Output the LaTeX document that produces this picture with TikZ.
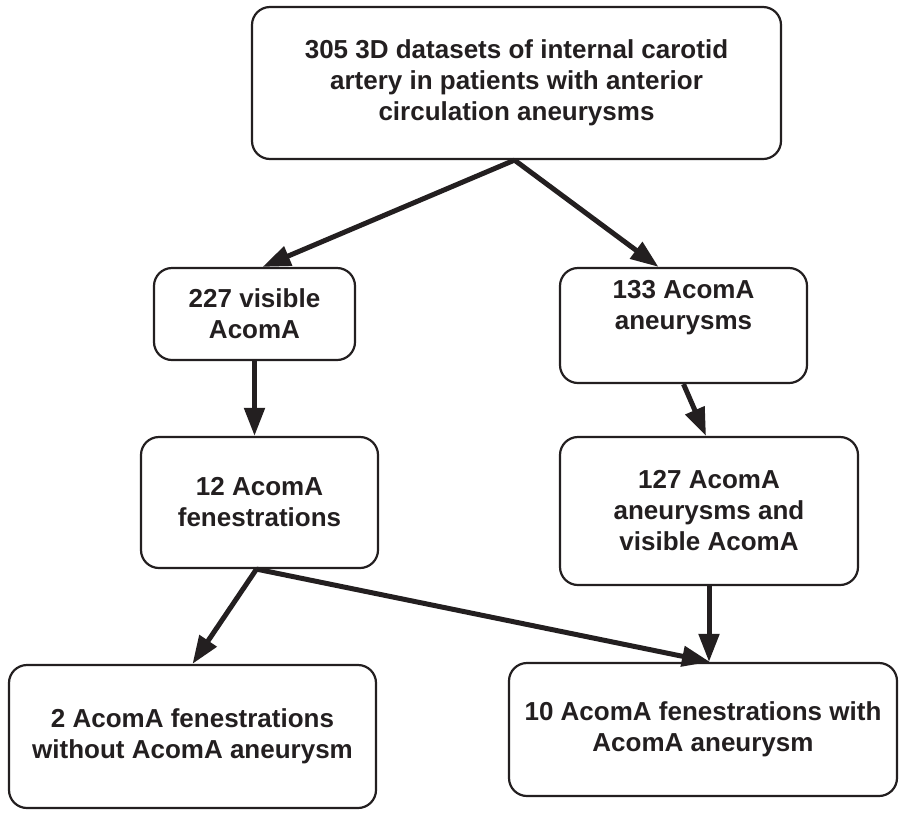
\documentclass[tikz,border=0pt]{standalone}
\usepackage{fontspec}
\setmainfont{Liberation Sans}
\usetikzlibrary{arrows.meta,calc}
\definecolor{ink}{HTML}{231F20}
\tikzset{
  box/.style={draw=ink, text=ink, line width=2.2pt, rounded corners=18pt, align=center,
    inner sep=0pt, font=\fontsize{26}{31}\selectfont\bfseries},
  arr/.style={draw=ink, line width=5pt, -{Triangle[width=20pt,length=28pt]}}
}
\begin{document}
\begin{tikzpicture}[x=1pt,y=-1pt]
\useasboundingbox (0,0) rectangle (901,812);
\node[box, minimum width=529pt, minimum height=152pt] (top) at (516.5,83)
  {305 3D datasets of internal carotid\\artery in patients with anterior\\circulation aneurysms};
\node[box, minimum width=201pt, minimum height=92pt] (v227) at (254.5,314)
  {227 visible\\AcomA};
\node[box, minimum width=247pt, minimum height=115pt] (a133) at (683.5,325.5)
  {133 AcomA\\aneurysms\\\strut};
\node[box, minimum width=237pt, minimum height=131pt] (f12) at (259.5,502.5)
  {12 AcomA\\fenestrations};
\node[box, minimum width=298pt, minimum height=148pt] (a127) at (709,511)
  {127 AcomA\\aneurysms and\\visible AcomA};
\node[box, minimum width=367pt, minimum height=143pt] (n2) at (192.5,736.5)
  {2 AcomA fenestrations\\without AcomA aneurysm};
\node[box, minimum width=388pt, minimum height=133pt] (n10) at (703,729.5)
  {10 AcomA fenestrations with\\AcomA aneurysm};
\draw[arr] ([xshift=-2pt]top.south) -- ([xshift=8pt]v227.north);
\draw[arr] ([xshift=-2pt]top.south) -- ([xshift=-25pt]a133.north);
\draw[arr] (v227.south) -- (v227.south |- f12.north);
\draw[arr] (a133.south) -- ([xshift=-3pt]a127.north);
\draw[arr] ([xshift=-3pt]f12.south) -- (n2.north);
\draw[arr] ([xshift=-3pt]f12.south) -- ([xshift=7pt]n10.north);
\draw[arr] (a127.south) -- (a127.south |- n10.north);
\end{tikzpicture}
\end{document}
